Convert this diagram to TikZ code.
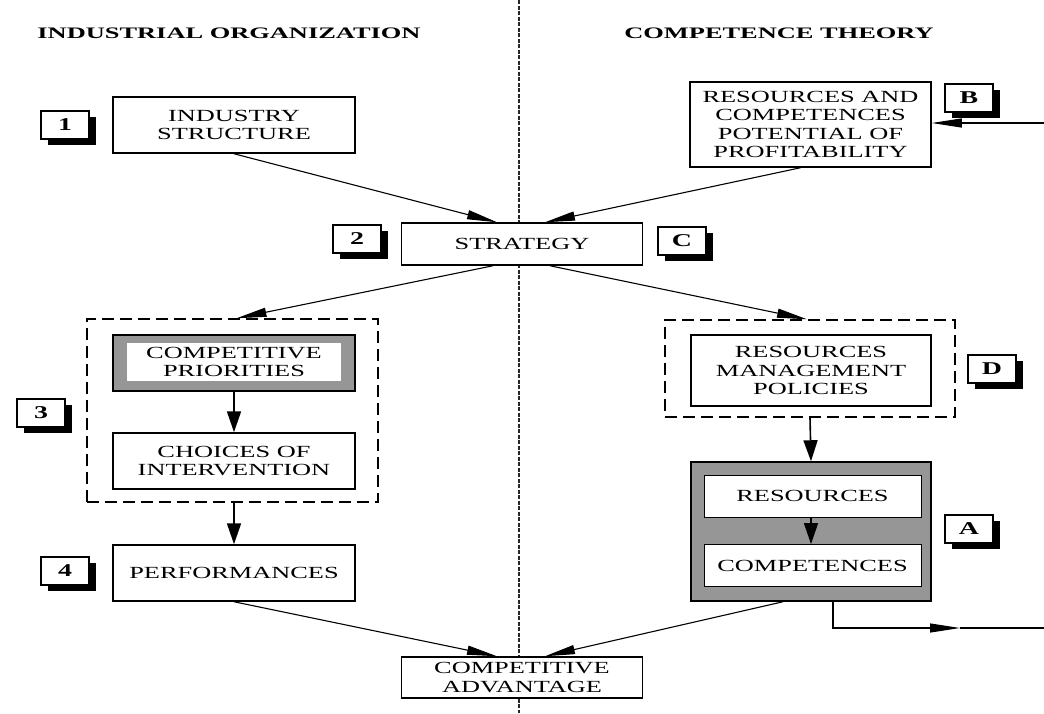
\documentclass[tikz,border=0pt]{standalone}
\usepackage{fontspec}
\setmainfont{Liberation Serif}[FakeStretch=1.55]
\newfontfamily\titlefont{Liberation Serif}[FakeStretch=1.65]
\usetikzlibrary{arrows.meta,calc,shadows}
\definecolor{boxgray}{RGB}{150,150,150}
\tikzset{
  x=1pt, y=-1pt,
  box/.style={draw, line width=1.5pt, fill=white, minimum width=242pt, minimum height=56pt,
    align=center, inner sep=0pt, font=\fontsize{17}{18.5}\selectfont},
  ibox/.style={draw, line width=0.9pt, fill=white, minimum width=217pt, minimum height=42pt,
    align=center, inner sep=0pt, font=\fontsize{17}{18.5}\selectfont},
  badge/.style={draw, line width=1.5pt, fill=white, minimum width=48pt, minimum height=28pt,
    inner sep=0pt, font=\bfseries\fontsize{18}{19}\selectfont,
    drop shadow={shadow xshift=7pt, shadow yshift=-6pt, fill=black, opacity=1}},
  grp/.style={draw, line width=1.5pt, dash pattern=on 12pt off 6pt, inner sep=0pt},
  ttl/.style={font=\titlefont\bfseries\fontsize{16}{18}\selectfont, inner sep=0pt},
  arr/.style={line width=1.1pt, -{Triangle[length=30pt,width=9pt]}},
  varr/.style={line width=1.6pt, -{Triangle[length=21pt,width=14pt]}},
}
\begin{document}
\begin{tikzpicture}
\useasboundingbox[fill=white] (0,0) rectangle (1044,713);
% divider
\coordinate (dtop) at (519,0);
\coordinate (dbot) at (519,713);
\draw[line width=1.4pt, dash pattern=on 4pt off 1.5pt, black!85] (dtop) -- (dbot);
% titles
\node[ttl] (t1) at (229,33) {INDUSTRIAL ORGANIZATION};
\node[ttl] (t2) at (779,33) {COMPETENCE THEORY};
% left column
\node[box] (is) at (234,125) {INDUSTRY\\STRUCTURE};
\node[box, minimum width=241pt, minimum height=42pt] (st) at (522,244) {STRATEGY};
\node[grp, minimum width=291pt, minimum height=183pt] (g3) at (232.5,410.5) {};
\node[box, fill=boxgray] (cp) at (234,363) {};
\node[fill=white, minimum width=214pt, minimum height=38pt, inner sep=0pt, align=center,
  font=\fontsize{17}{18.5}\selectfont] (cpi) at (234,362) {COMPETITIVE\\PRIORITIES};
\node[box] (ci) at (234,461) {CHOICES OF\\INTERVENTION};
\node[box] (pf) at (234,573) {PERFORMANCES};
\node[box, minimum width=241pt, minimum height=41pt] (ca) at (522,677.5) {COMPETITIVE\\ADVANTAGE};
% right column
\node[box, minimum width=241pt, minimum height=85pt] (rc) at (810.5,124.5)
  {RESOURCES AND\\COMPETENCES\\POTENTIAL OF\\PROFITABILITY};
\node[grp, minimum width=290pt, minimum height=97pt] (gd) at (810,368.5) {};
\node[box, minimum width=240pt, minimum height=71pt] (rm) at (811,370.5)
  {RESOURCES\\MANAGEMENT\\POLICIES};
\node[box, fill=boxgray, minimum width=240pt, minimum height=139pt] (a) at (811,531.5) {};
\node[ibox] (res) at (812.5,496) {RESOURCES};
\node[ibox] (comp) at (812.5,565.5) {COMPETENCES};
% badges
\node[badge] (b1) at (65,125) {1};
\node[badge] (b2) at (357,239) {2};
\node[badge] (b3) at (41,413) {3};
\node[badge] (b4) at (65,571) {4};
\node[badge] (bB) at (969,98) {B};
\node[badge] (bC) at (682,241) {C};
\node[badge] (bD) at (992,369) {D};
\node[badge] (bA) at (969,529) {A};
% connectors
\draw[arr] (is.south) -- ([xshift=-25pt]st.north);
\draw[arr] ([xshift=-10pt]rc.south) -- ([xshift=23pt]st.north);
\draw[arr] ([xshift=-29pt]st.south) -- ([xshift=4pt]g3.north);
\draw[arr] ([xshift=28pt]st.south) -- ([xshift=-3pt]gd.north);
\draw[varr] (cp.south) -- (ci.north);
\draw[varr] (cp.south |- g3.south) -- (pf.north);
\draw[arr] (pf.south) -- ([xshift=-25pt]ca.north);
\draw[varr] (gd.south) -- (a.north);
\draw[varr] (res.south -| a.north) -- (comp.north -| a.north);
\draw[arr] ([xshift=-28pt]a.south) -- ([xshift=23pt]ca.north);
% feedback
\coordinate (fbm) at (960,628);
\coordinate (fbe) at (1044,628);
\coordinate (bin) at (1044,123);
\draw[arr] ([xshift=22pt]a.south) |- (fbm);
\draw[line width=1.1pt] (fbm) -- (fbe);
\draw[arr] (bin) -- (rc.east |- bin);
\end{tikzpicture}
\end{document}
